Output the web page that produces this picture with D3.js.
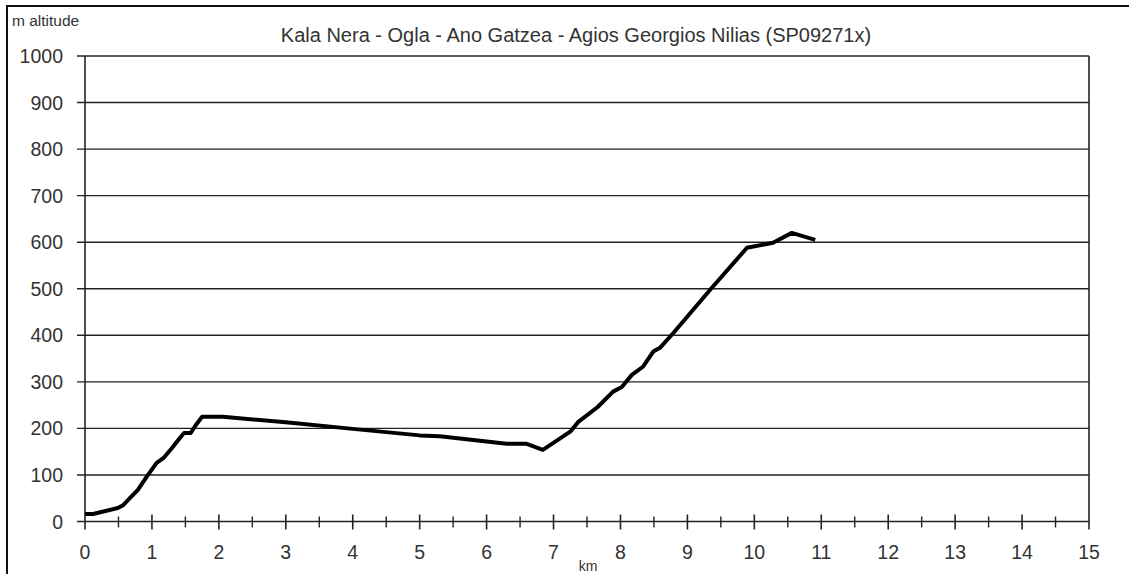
<!DOCTYPE html>
<html>
<head>
<meta charset="utf-8">
<script src="https://cdn.jsdelivr.net/npm/d3@7"></script>
<style>
  body { margin: 0; background: #fff; }
  text { font-family: "Liberation Sans", Arial, sans-serif; fill: #333; }
</style>
</head>
<body>
<div id="app"></div>
<script>
const width = 1129
    , height = 574
    , margin = { top: 56, right: 40, bottom: 52.5, left: 85 };

const title = "Kala Nera - Ogla - Ano Gatzea - Agios Georgios Nilias (SP09271x)";

// profile: distance (km) and altitude (m)
const km = [0, 0.12, 0.49, 0.57, 0.67, 0.79, 0.92, 1.07, 1.17, 1.30, 1.42, 1.48, 1.58, 1.64, 1.75,
  2.06, 3, 4, 5, 5.3, 6.3, 6.6, 6.84, 7.25, 7.37, 7.66, 7.89, 8.02, 8.17, 8.34, 8.49, 8.59, 8.79,
  9.34, 9.89, 10.28, 10.56, 10.91];
const altitude = [16, 16, 29, 35, 50, 68, 96, 126, 136, 158, 180, 190, 190, 204, 225,
  225, 213, 199, 185, 183, 167, 167, 154, 193, 214, 246, 279, 289, 315, 333, 365, 373, 405,
  498, 588, 599, 620, 605];

const xTicks = d3.range(0, 16);
const yTicks = d3.range(0, 1001, 100);

const svg = d3.select("#app").append("svg")
    .attr("width", width)
    .attr("height", height);

// outer frame (left + top visible)
svg.append("path")
    .attr("d", `M7,${height} V6 H${width}`)
    .attr("fill", "none")
    .attr("stroke", "#111")
    .attr("stroke-width", 2);

const x = d3.scaleLinear().domain([0, 15]).range([margin.left, width - margin.right]);
const y = d3.scaleLinear().domain([0, 1000]).range([height - margin.bottom, margin.top]);

// gridlines
svg.append("g")
  .selectAll("line")
    .data(yTicks)
  .enter().append("line")
    .attr("x1", x(0) - 8)
    .attr("x2", x(15))
    .attr("y1", d => y(d))
    .attr("y2", d => y(d))
    .attr("stroke", "#222")
    .attr("stroke-width", 1.4);

// y axis line + right border
svg.append("line")
    .attr("x1", x(0)).attr("x2", x(0))
    .attr("y1", y(1000)).attr("y2", y(0) + 8)
    .attr("stroke", "#222").attr("stroke-width", 1.6);
svg.append("line")
    .attr("x1", x(15)).attr("x2", x(15))
    .attr("y1", y(1000)).attr("y2", y(0) + 8)
    .attr("stroke", "#222").attr("stroke-width", 1.6);

// y labels
svg.append("g")
  .selectAll("text")
    .data(yTicks)
  .enter().append("text")
    .attr("x", 63)
    .attr("y", d => y(d) + 7)
    .attr("text-anchor", "end")
    .style("font-size", "19.5px")
    .text(d => d);

// x ticks
const halfTicks = d3.range(0.5, 15, 1);
svg.append("g")
  .selectAll("line")
    .data(xTicks.slice(1, 15))
  .enter().append("line")
    .attr("x1", d => x(d)).attr("x2", d => x(d))
    .attr("y1", y(0) - 7).attr("y2", y(0) + 8)
    .attr("stroke", "#222").attr("stroke-width", 1.6);
svg.append("g")
  .selectAll("line")
    .data(halfTicks)
  .enter().append("line")
    .attr("x1", d => x(d)).attr("x2", d => x(d))
    .attr("y1", y(0) - 5).attr("y2", y(0) + 6)
    .attr("stroke", "#222").attr("stroke-width", 1.4);

svg.append("g")
  .selectAll("text")
    .data(xTicks)
  .enter().append("text")
    .attr("x", d => x(d))
    .attr("y", y(0) + 37)
    .attr("text-anchor", "middle")
    .style("font-size", "19.5px")
    .text(d => d);

// profile line
const data = km.map((k, i) => ({ k, a: altitude[i] }));
svg.append("path")
    .datum(data)
    .attr("fill", "none")
    .attr("stroke", "#000")
    .attr("stroke-width", 4)
    .attr("stroke-linejoin", "round")
    .attr("d", d3.line().x(d => x(d.k)).y(d => y(d.a)));

// texts
svg.append("text")
    .attr("x", 12).attr("y", 26)
    .style("font-size", "15.5px")
    .text("m altitude");

svg.append("text")
    .attr("x", 576).attr("y", 42)
    .attr("text-anchor", "middle")
    .style("font-size", "20px")
    .text(title);

svg.append("text")
    .attr("x", 588).attr("y", 571)
    .attr("text-anchor", "middle")
    .style("font-size", "14px")
    .text("km");
</script>
</body>
</html>
